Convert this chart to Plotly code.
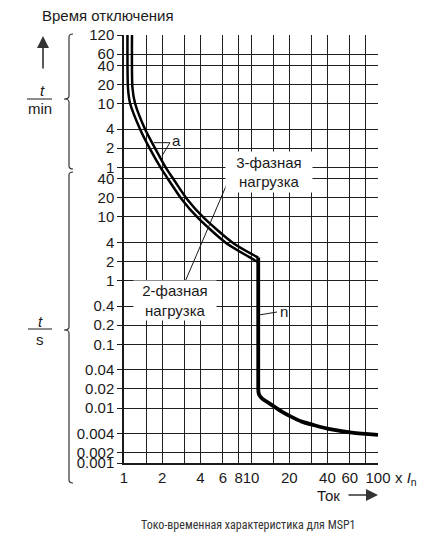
import numpy as np
import plotly.graph_objects as go

# --- data (x in multiples of In, t in seconds) ---
# left curve pair "a" (2-/3-phase load), outer = upper-right line
outer_x = [1.156, 1.166, 1.22, 1.463, 1.786, 2.14, 2.476, 3.13, 4.26, 7.22, 11.4]
outer_t = [7200, 1060, 616, 241, 112.8, 58.8, 38.1, 19.2, 9.65, 3.91, 2.3]
inner_x = [1.065, 1.075, 1.115, 1.336, 1.617, 1.949, 2.245, 2.837, 3.825, 6.36, 9.64, 11.25]
inner_t = [7200, 1060, 616, 241, 112.8, 58.8, 38.1, 19.2, 9.65, 3.91, 2.36, 1.97]

# magnetic trip "n": vertical part, then the short-circuit tail
n_x = [11.4, 11.4]
n_t = [2.3, 0.0192]
tail_x = [11.4, 11.55, 12.14, 14.55, 17.45, 20.65, 25.1, 30.9, 41.9, 62.1, 100]
tail_t = [0.0192, 0.0165, 0.01427, 0.01119, 0.00879, 0.00734, 0.00612, 0.00543, 0.00465, 0.00411, 0.00379]

# axes
x_ticks = [1, 2, 4, 6, 8, 10, 20, 40, 60, 100]
x_minor = [1.5, 3, 15, 30, 80]
y_top = 7200        # 120 min
y_bottom = 0.00137  # picture cuts the scale just above 0.001 s
y_ticks = [7200, 3600, 2400, 1200, 600, 240, 120, 60,
           40, 20, 10, 4, 2, 1, 0.4, 0.2, 0.1, 0.04, 0.02, 0.01, 0.004, 0.002, y_bottom]
y_labels = ["120", "60", "40", "20", "10", "4", "2", "1",
            "40", "20", "10", "4", "2", "1", "0.4", "0.2", "0.1", "0.04", "0.02", "0.01",
            "0.004", "0.002", "0.001"]

FONT = "Arial, Liberation Sans, sans-serif"
INK = "#1a1a1a"
GRID = "#1f1f1f"

# plot box in page pixels (431 x 553 window, page body has an 8px margin)
PAGE = 8
L, R, T, B = 124, 378, 35, 463


def px(x):
    return (x - L) / (R - L)


def py(y):
    return (B - y) / (B - T)


def path(pts):
    # pts: list of (cmd, [(x, y), ...]) in pixels -> paper path
    s = ""
    for cmd, coords in pts:
        s += cmd + " " + " ".join(f"{px(a):.5f},{py(b):.5f}" for a, b in coords) + " "
    return s.strip()


fig = go.Figure()

for xs, ts in [(outer_x, outer_t), (inner_x, inner_t)]:
    fig.add_trace(go.Scatter(x=xs, y=ts, mode="lines",
                             line=dict(color="black", width=2.5, shape="spline", smoothing=0.7),
                             hoverinfo="skip"))
fig.add_trace(go.Scatter(x=n_x, y=n_t, mode="lines", line=dict(color="black", width=3.8),
                         hoverinfo="skip"))
fig.add_trace(go.Scatter(x=tail_x, y=tail_t, mode="lines",
                         line=dict(color="black", width=3.8, shape="spline", smoothing=0.8),
                         hoverinfo="skip"))

shapes = []
# braces on the left
brace_min = [("M", [(73, 34)]), ("Q", [(69, 34), (69, 37)]), ("L", [(69, 96)]),
             ("Q", [(69, 99), (64, 99)]), ("Q", [(69, 99), (69, 102)]), ("L", [(69, 166)]),
             ("Q", [(69, 169), (73, 169)])]
brace_s = [("M", [(73, 172)]), ("Q", [(69, 172), (69, 175)]), ("L", [(69, 327)]),
           ("Q", [(69, 330), (64, 330)]), ("Q", [(69, 330), (69, 333)]), ("L", [(69, 480)]),
           ("Q", [(69, 483), (73, 483)])]
for b in [brace_min, brace_s]:
    shapes.append(dict(type="path", xref="paper", yref="paper", path=path(b),
                       line=dict(color="#333", width=1.2)))
# fraction bars
for x0, x1, y in [(27, 52, 99), (28, 52, 329)]:
    shapes.append(dict(type="line", xref="paper", yref="paper", x0=px(x0), x1=px(x1),
                       y0=py(y), y1=py(y), line=dict(color=INK, width=1)))
# leader lines (data coords)
for x0, y0, x1, y1 in [(7.09, 50.8, 3.02, 0.954),
                       (2.30, 146.7, 1.72, 146.7), (2.30, 146.7, 1.99, 90.7),
                       (16.0, 0.322, 11.56, 0.289)]:
    shapes.append(dict(type="line", xref="x", yref="y", x0=x0, y0=y0, x1=x1, y1=y1,
                       line=dict(color=INK, width=1), layer="above"))

ann = []


def text(s, x, y, size=15, anchor="center", color=INK, family=FONT, **kw):
    ann.append(dict(text=s, x=px(x), y=py(y), xref="paper", yref="paper", showarrow=False,
                    xanchor=anchor, yanchor="middle", font=dict(family=family, size=size, color=color),
                    **kw))


text("Время отключения", 107.5, 15)
text("<i>t</i>", 42, 90)
text("min", 40, 108)
text("<i>t</i>", 40, 321)
text("s", 40, 339)
text("a", 176, 140)
text("n", 284, 311)
text("x <i>I</i><sub>n</sub>", 393, 478, anchor="left")
text("Ток", 328, 495)
text("3-фазная<br>нагрузка", 269, 172, bgcolor="white", width=86, height=40, borderpad=0)
text("2-фазная<br>нагрузка", 175, 300.5, bgcolor="white", width=82, height=39, borderpad=0)
text("Токо-временная характеристика для MSP1", 248, 525, size=12, color="#333",
     family="Liberation Sans Narrow, Arial Narrow, Roboto Condensed, Roboto, sans-serif")

# arrows
for tip, tail in [((43, 36), (43, 70)), ((378, 495), (347, 495))]:
    ann.append(dict(text="", x=px(tip[0]), y=py(tip[1]), xref="paper", yref="paper",
                    ax=tail[0] - tip[0], ay=tail[1] - tip[1], showarrow=True,
                    arrowhead=2, arrowsize=1.5, arrowwidth=1.6, arrowcolor="#333"))

fig.update_layout(
    width=431 - PAGE, height=553 - PAGE, autosize=False,
    margin=dict(l=L - PAGE, r=431 - R, t=T - PAGE, b=553 - B),
    paper_bgcolor="white", plot_bgcolor="white",
    showlegend=False,
    shapes=shapes, annotations=ann,
    font=dict(family=FONT, size=15, color=INK),
)
fig.update_xaxes(type="log", range=[0, 2], tickvals=x_ticks, ticktext=[str(v) for v in x_ticks],
                 tickangle=0,
                 showgrid=True, gridcolor=GRID, gridwidth=1.1,
                 minor=dict(tickvals=x_minor, showgrid=True, gridcolor=GRID, gridwidth=1.1, ticks=""),
                 showline=True, linecolor=INK, linewidth=1.5, ticks="", zeroline=False,
                 tickfont=dict(size=15, color=INK))
fig.update_yaxes(type="log", range=[np.log10(y_bottom), np.log10(y_top)],
                 tickvals=y_ticks, ticktext=y_labels,
                 showgrid=True, gridcolor=GRID, gridwidth=1.1,
                 showline=True, linecolor=INK, linewidth=1.5,
                 ticks="outside", ticklen=5, tickwidth=1.2, tickcolor=INK, zeroline=False,
                 tickfont=dict(size=15, color=INK))

fig.write_html("out.html")
